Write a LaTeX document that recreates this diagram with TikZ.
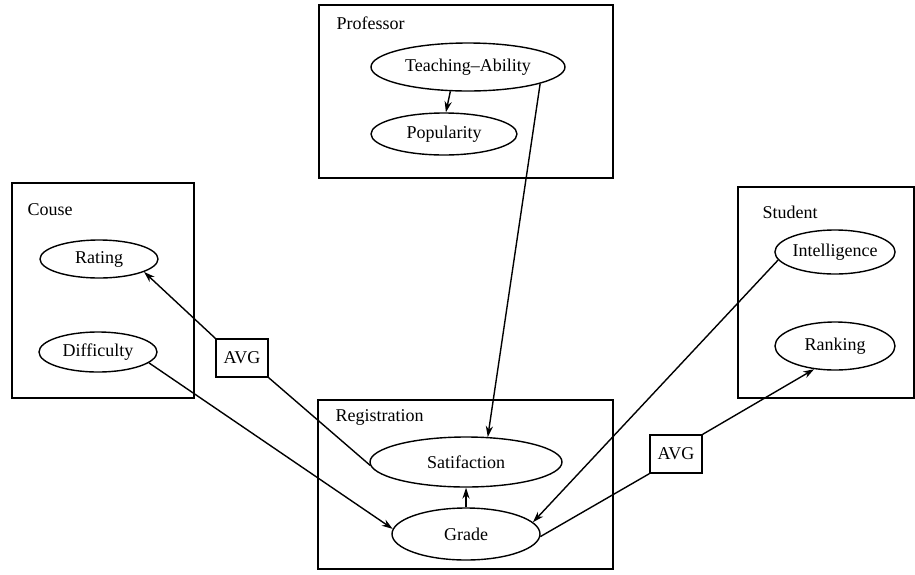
\documentclass[tikz,border=0pt]{standalone}
\usepackage{fontspec}
\setmainfont{Liberation Serif}
\usetikzlibrary{arrows.meta,shapes.geometric}
\begin{document}
\begin{tikzpicture}[x=0.5pt,y=-0.5pt,
  font=\fontsize{9}{11}\selectfont,
  line width=0.7pt,
  attr/.style={draw,ellipse,inner sep=0pt},
  aggbox/.style={draw,rectangle,inner sep=0pt,minimum width=26pt,minimum height=19pt},
  plate/.style={draw,line width=0.7pt},
  platelabel/.style={anchor=west,inner sep=0pt},
  arr/.style={-{Stealth[length=5.5pt,width=3.6pt]}},
  ]
\useasboundingbox (0,0) rectangle (915,574);

% class plates
\draw[plate] (319,5) rectangle (613,178);
\draw[plate] (12,183) rectangle (194,398);
\draw[plate] (738,187) rectangle (914,398);
\draw[plate] (318,400) rectangle (613,569);

\node[platelabel] (lprof) at (336,23) {Professor};
\node[platelabel] (lcourse) at (27,210) {Couse};
\node[platelabel] (lstud) at (762,212) {Student};
\node[platelabel] (lreg) at (335,417) {Registration};

% attributes
\node[attr,minimum width=97pt,minimum height=24pt] (ta) at (468,67) {Teaching--Ability};
\node[attr,minimum width=73pt,minimum height=21pt] (pop) at (444,134) {Popularity};
\node[attr,minimum width=59pt,minimum height=19pt] (rating) at (99,259) {Rating};
\node[attr,minimum width=59pt,minimum height=20pt] (diff) at (98,352) {Difficulty};
\node[attr,minimum width=60pt,minimum height=22pt] (intel) at (835,252) {Intelligence};
\node[attr,minimum width=60pt,minimum height=24pt] (rank) at (835,346) {Ranking};
\node[attr,minimum width=96pt,minimum height=25pt] (sat) at (466,462) {Satifaction};
\node[attr,minimum width=74pt,minimum height=26pt] (grade) at (466,534) {Grade};

% aggregators
\node[aggbox] (avgl) at (242,358) {AVG};
\node[aggbox] (avgr) at (676,454) {AVG};

% dependencies
\draw[arr] (ta.234) -- (pop.85);
\draw[arr] (ta.347) -- (sat.49);
\draw[arr] (grade.north) -- (sat.south);
\draw (sat.182) -- (avgl.south east);
\draw[arr] (avgl.north west) -- (rating.344);
\draw[arr] (diff.-12) -- (grade.176);
\draw[arr] (intel.188) -- (grade.10);
\draw (grade.358) -- (avgr.south west);
\draw[arr] (avgr.north east) -- (rank.228);
\end{tikzpicture}
\end{document}
